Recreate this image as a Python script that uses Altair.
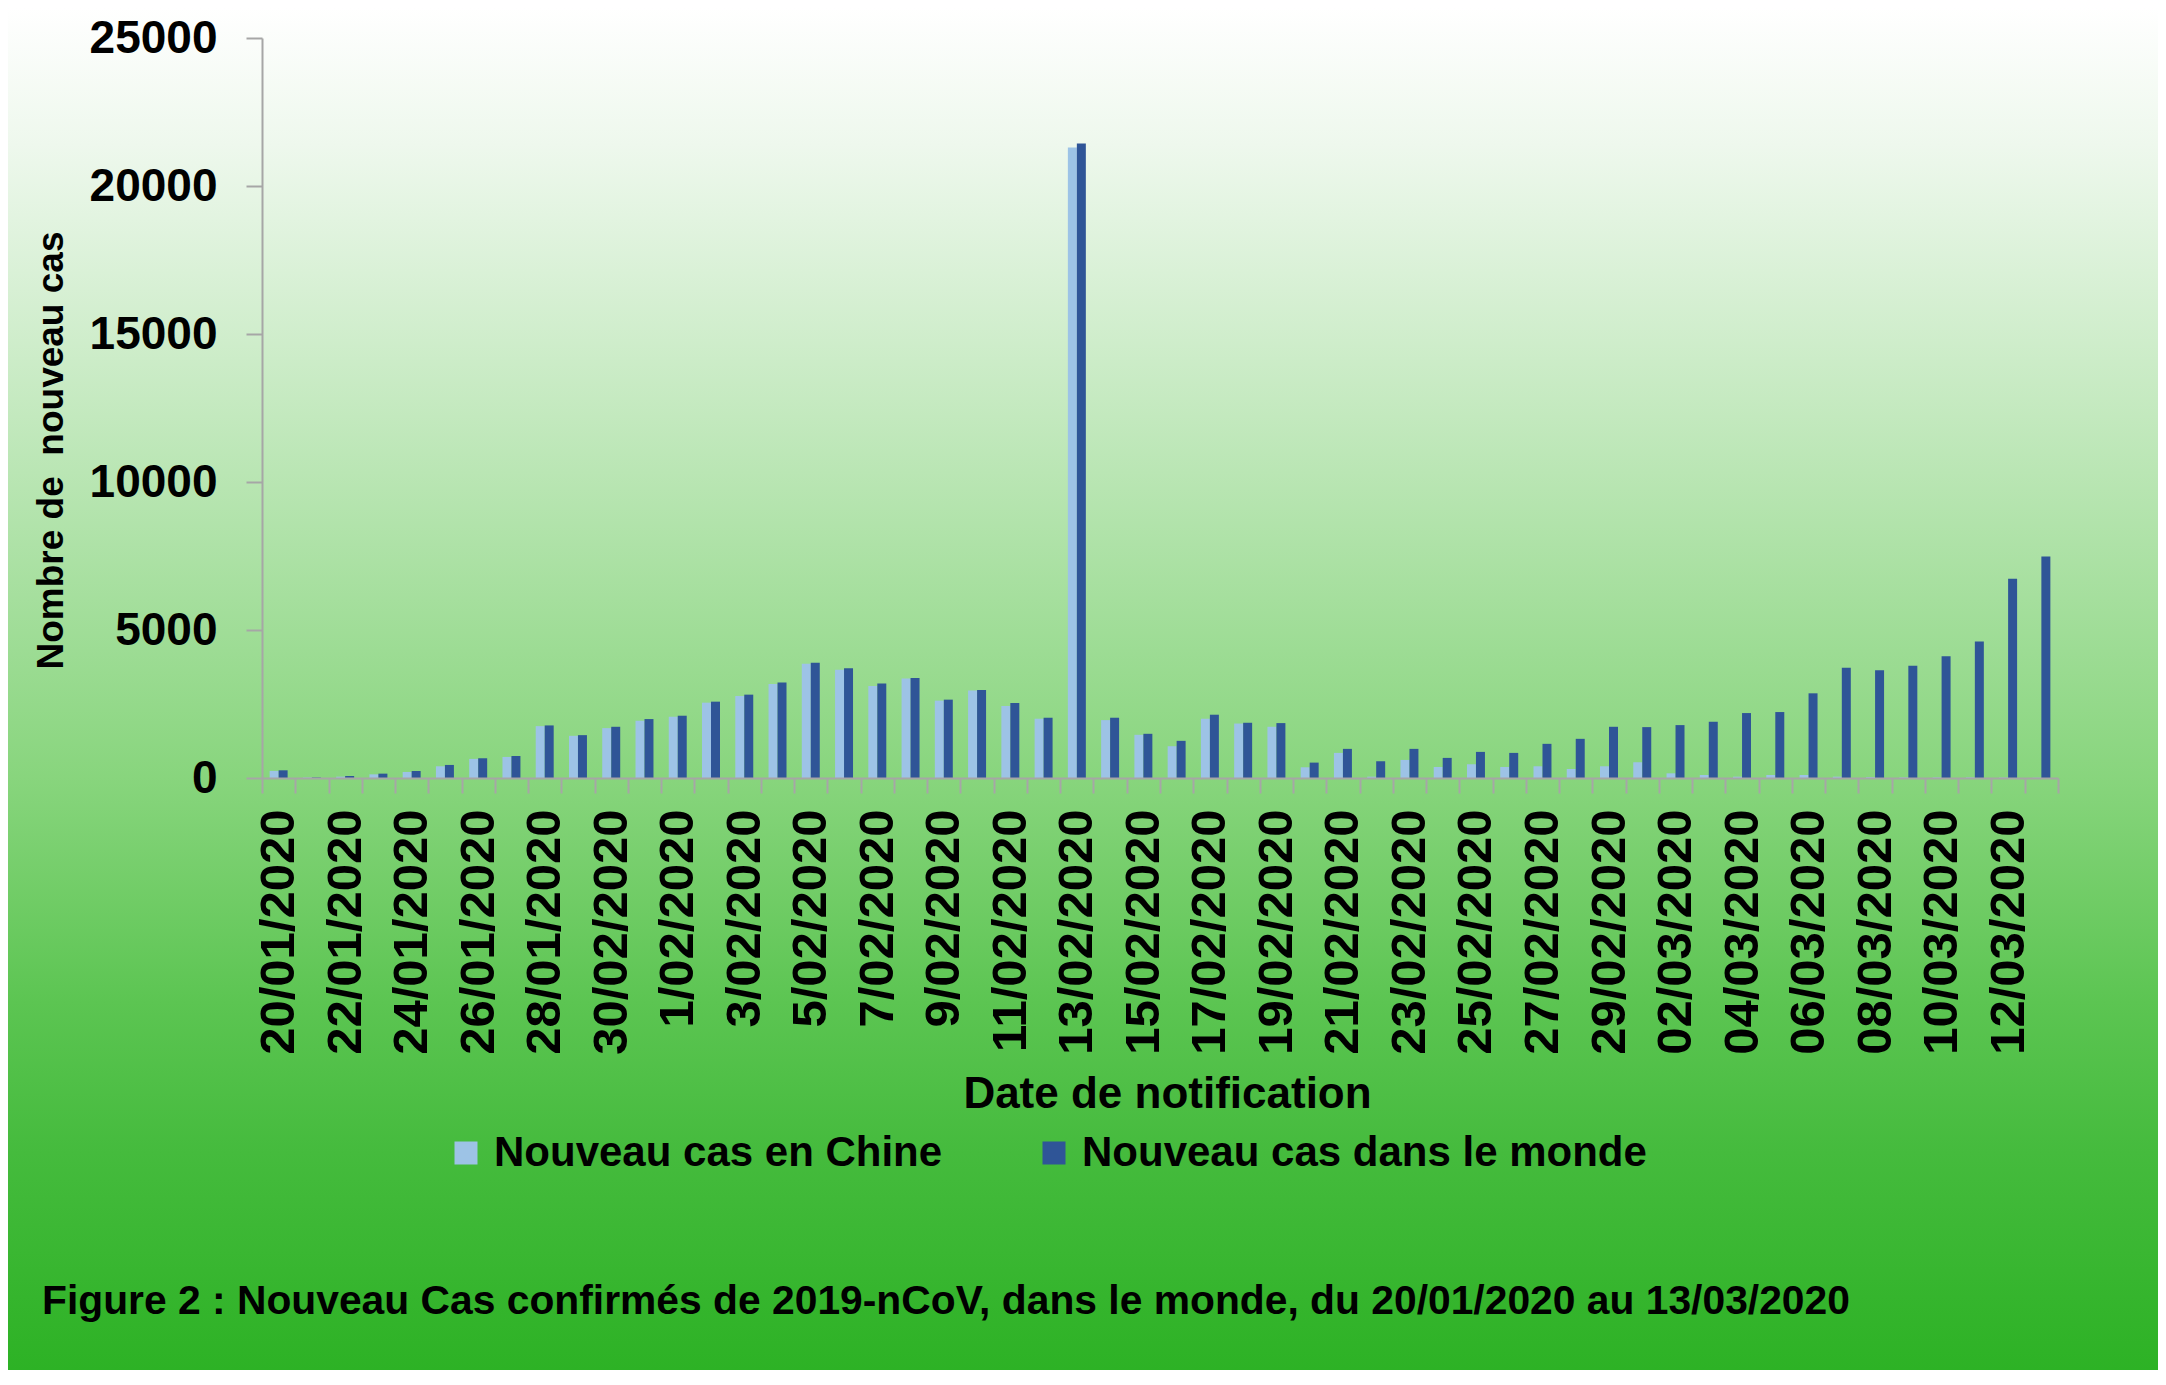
import json
import altair as alt
import pandas as pd

# ---- data ----
dates = [
    "20/01/2020", "21/01/2020", "22/01/2020", "23/01/2020", "24/01/2020", "25/01/2020",
    "26/01/2020", "27/01/2020", "28/01/2020", "29/01/2020", "30/02/2020", "31/01/2020",
    "1/02/2020", "2/02/2020", "3/02/2020", "4/02/2020", "5/02/2020", "6/02/2020",
    "7/02/2020", "8/02/2020", "9/02/2020", "10/02/2020", "11/02/2020", "12/02/2020",
    "13/02/2020", "14/02/2020", "15/02/2020", "16/02/2020", "17/02/2020", "18/02/2020",
    "19/02/2020", "20/02/2020", "21/02/2020", "22/02/2020", "23/02/2020", "24/02/2020",
    "25/02/2020", "26/02/2020", "27/02/2020", "28/02/2020", "29/02/2020", "01/03/2020",
    "02/03/2020", "03/03/2020", "04/03/2020", "05/03/2020", "06/03/2020", "07/03/2020",
    "08/03/2020", "09/03/2020", "10/03/2020", "11/03/2020", "12/03/2020", "13/03/2020",
]
tick_labels = dates[0::2]

chine = [
    240, 15, 45, 124, 204, 396, 645, 712, 1753, 1425, 1685, 1934,
    2070, 2545, 2771, 3178, 3857, 3653, 3110, 3359, 2613, 2952, 2432, 2002,
    21300, 1956, 1459, 1074, 2002, 1840, 1730, 362, 848, 45, 611, 373,
    464, 373, 396, 305, 396, 532, 158, 102, 45, 102, 102, 45,
    30, 20, 20, 20, 15, 10,
]
monde = [
    260, 20, 68, 147, 237, 441, 667, 746, 1776, 1448, 1730, 1991,
    2104, 2579, 2816, 3224, 3890, 3709, 3190, 3382, 2647, 2975, 2534, 2036,
    21440, 2036, 1493, 1255, 2138, 1866, 1855, 520, 984, 566, 984, 679,
    882, 848, 1154, 1323, 1730, 1719, 1787, 1900, 2194, 2228, 2861, 3721,
    3642, 3789, 4117, 4614, 6729, 7487,
]
series_names = ["Nouveau cas en Chine", "Nouveau cas dans le monde"]
series_colors = ["#9dc3e6", "#2f5597"]

y_ticks = [0, 5000, 10000, 15000, 20000, 25000]
y_title = "Nombre de\u00a0 nouveau cas"
x_title = "Date de notification"
caption = "Figure 2 : Nouveau Cas confirmés de 2019-nCoV, dans le monde, du 20/01/2020 au 13/03/2020"

rows = []
for d, c, m in zip(dates, chine, monde):
    rows.append({"date": d, "series": series_names[0], "value": c})
    rows.append({"date": d, "series": series_names[1], "value": m})
df = pd.DataFrame(rows)
one = pd.DataFrame({"a": [0]})

W, H = 1796, 740
PAD = {"left": 254, "top": 30, "right": 100, "bottom": 592}

FONT = "Liberation Sans"
GRAY = "#a6a6a6"

gradient = {
    "gradient": "linear", "x1": 0, "y1": 0, "x2": 0, "y2": 1,
    "stops": [
        {"offset": 0.0, "color": "#ffffff"},
        {"offset": 0.10, "color": "#eef8ed"},
        {"offset": 0.30, "color": "#c3e9be"},
        {"offset": 0.565, "color": "#88d57d"},
        {"offset": 0.73, "color": "#5cc552"},
        {"offset": 0.84, "color": "#45bb3d"},
        {"offset": 1.0, "color": "#2db225"},
    ],
}

bg = alt.Chart(one).mark_rect(color=gradient).encode(
    x=alt.value(-PAD["left"]), x2=alt.value(W + PAD["right"]),
    y=alt.value(-PAD["top"]), y2=alt.value(H + PAD["bottom"]),
)

label_expr = "indexof(" + json.dumps(tick_labels) + ", datum.value) >= 0 ? datum.label : ''"

bars = alt.Chart(df).mark_bar().encode(
    x=alt.X(
        "date:N", sort=dates,
        scale=alt.Scale(paddingInner=0, paddingOuter=0),
        axis=alt.Axis(
            title=x_title, labelExpr=label_expr, labelAngle=-90,
            labelAlign="right", labelBaseline="middle", labelOverlap=False,
            labelFont=FONT, labelFontSize=49, labelFontWeight="bold", labelColor="black",
            labelPadding=16, labelLimit=500, tickBand="extent", tickSize=15,
            tickColor=GRAY, domainColor=GRAY, domainWidth=2, tickWidth=2,
            titleFont=FONT, titleFontSize=44, titleFontWeight="bold", titleColor="black",
            titleX=905, titleY=316, titleAlign="center", titleBaseline="middle",
            zindex=1,
        ),
    ),
    xOffset=alt.XOffset("series:N", sort=series_names,
                        scale=alt.Scale(paddingOuter=0.85, paddingInner=0)),
    y=alt.Y(
        "value:Q", scale=alt.Scale(domain=[0, 25000], nice=False),
        axis=alt.Axis(
            title=y_title, values=y_ticks, format="d", grid=False,
            labelFont=FONT, labelFontSize=46, labelFontWeight="bold", labelColor="black",
            labelPadding=29, tickSize=16, tickColor=GRAY, tickWidth=2,
            domainColor=GRAY, domainWidth=2,
            titleFont=FONT, titleFontSize=37, titleFontWeight="bold", titleColor="black",
            titleX=-211, titleY=412, titleAngle=-90, titleAlign="center",
            titleBaseline="middle", zindex=1,
        ),
    ),
    color=alt.Color(
        "series:N",
        scale=alt.Scale(domain=series_names, range=series_colors),
        legend=alt.Legend(
            title=None, orient="none", legendX=183, legendY=1094, direction="horizontal",
            symbolType="square", symbolSize=529, symbolStrokeWidth=0,
            labelFont=FONT, labelFontSize=42, labelFontWeight="bold", labelColor="black",
            labelOffset=7, columnPadding=90, padding=0, labelLimit=1000, zindex=1,
        ),
    ),
)

cap = alt.Chart(one).mark_text(
    align="left", baseline="middle", font=FONT, fontSize=40.8, fontWeight="bold", color="black",
).encode(x=alt.value(-220), y=alt.value(1264), text=alt.value(caption))

chart = alt.layer(bg, bars, cap).properties(
    width=W, height=H, padding=PAD, autosize=alt.AutoSizeParams(type="none"),
).configure_view(stroke=None)

chart.save("out.html", embed_options={"renderer": "svg", "actions": False})
